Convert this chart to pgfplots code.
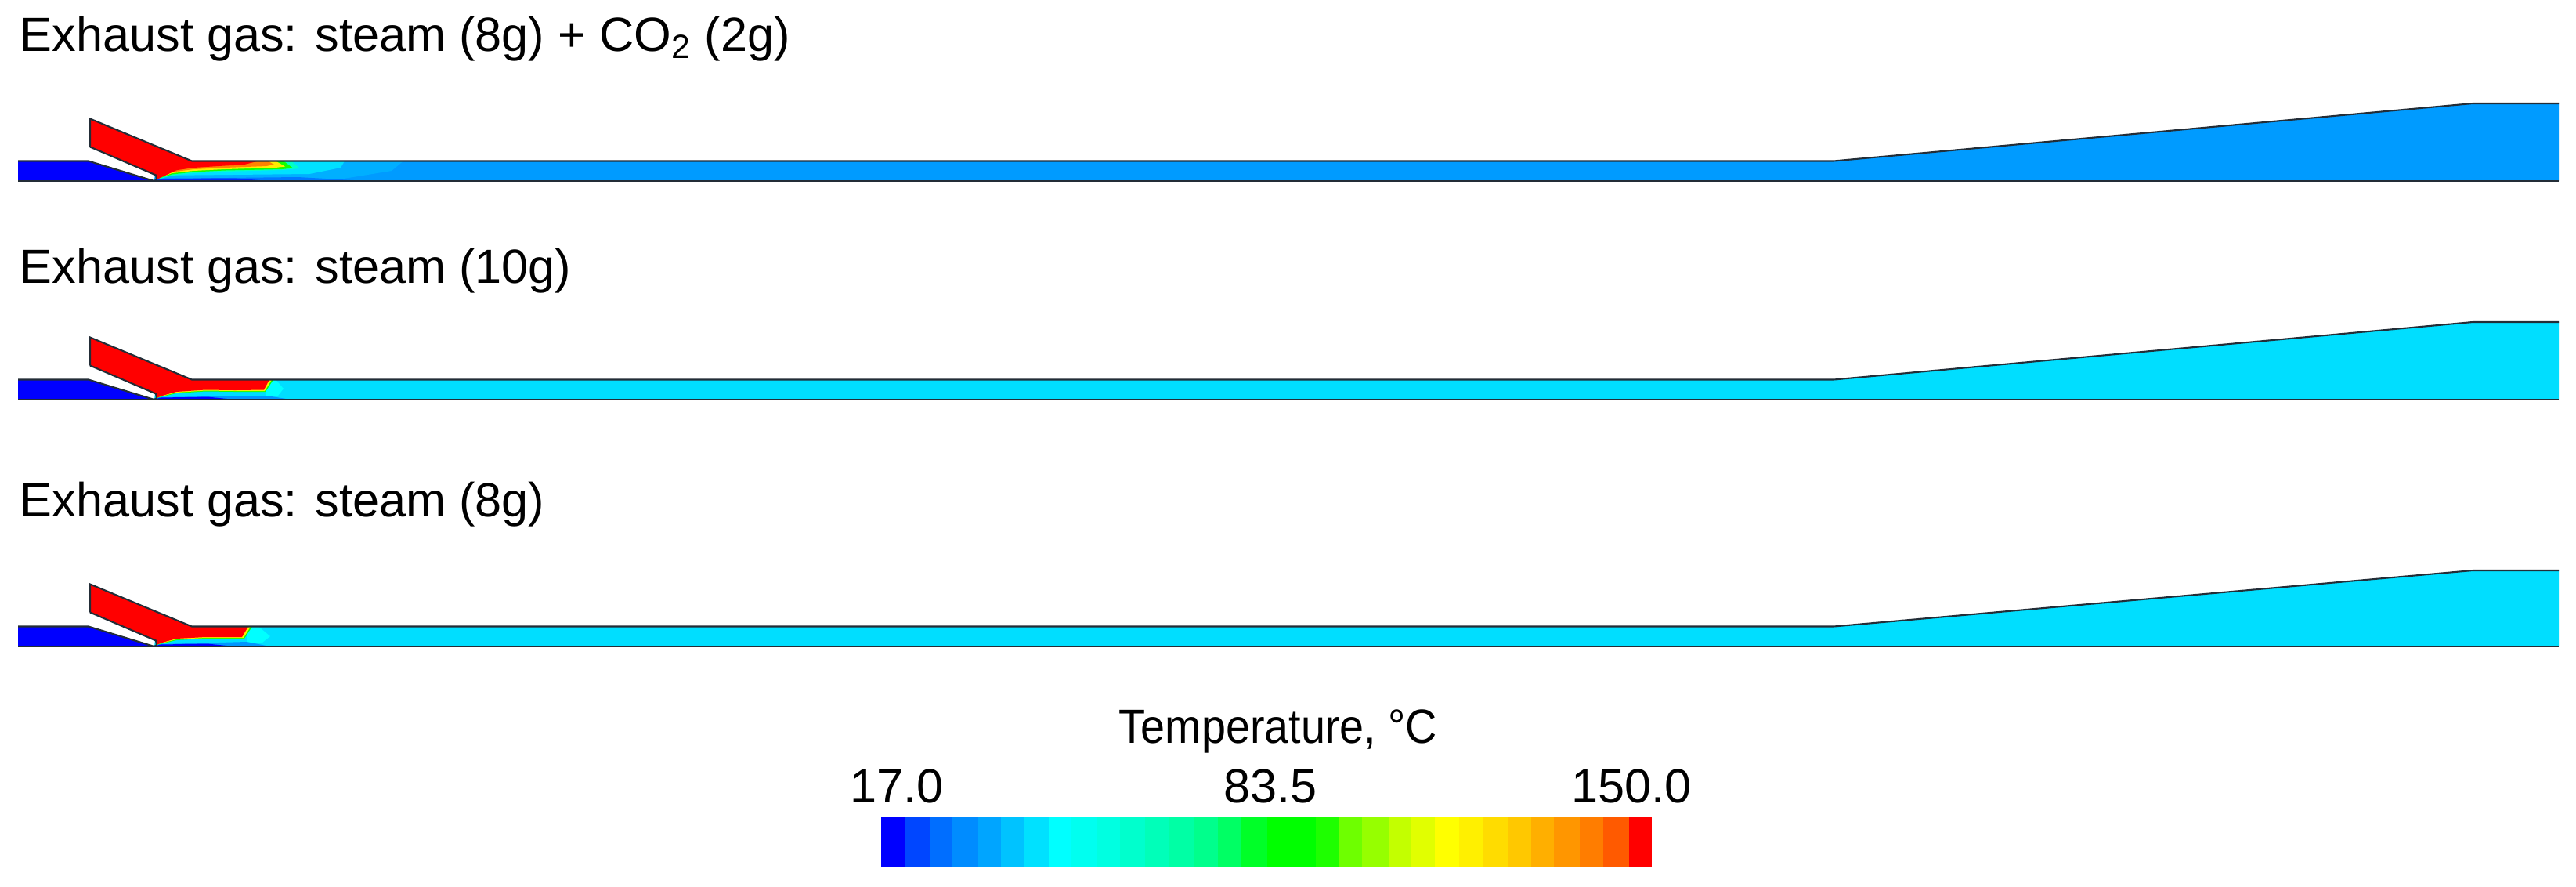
\documentclass[border=0pt]{standalone}
\usepackage{graphicx}
\usepackage{pgfplots}
\pgfplotsset{compat=1.18}
\usepackage{fontspec}
\setmainfont{Liberation Sans}
\newcommand\poly[2]{\addplot[draw=none,fill={rgb,255:red,#1},forget plot] coordinates {#2} --cycle;}
\newcommand\band[3]{\addplot[draw=none,fill={rgb,255:red,#3},forget plot] coordinates {(#1,1043)(#2,1043)(#2,1106)(#1,1106)} --cycle;}
\newcommand\edge[1]{\addplot[draw={rgb,255:red,35;green,45;blue,55},line width=0.5pt,forget plot] coordinates {#1};}
\newcommand\lab[1]{\scalebox{0.91}[1]{\fontsize{14.7}{17}\selectfont #1}}
\def\RED{255;green,0;blue,0}
\def\ORG{255;green,130;blue,0}
\def\YEL{255;green,235;blue,0}
\def\GRN{20;green,255;blue,0}
\def\BLU{0;green,0;blue,255}
\begin{document}
\begin{tikzpicture}
\path[use as bounding box] (0,0) rectangle (789.36pt,271.44pt);
\begin{axis}[at={(0,0)},anchor=south west,scale only axis,width=789.36pt,height=271.44pt,
  xmin=0,xmax=3289,ymin=0,ymax=1131,y dir=reverse,hide axis,clip=false]
% ---------- panel 1
\poly{0;green,155;blue,255}{(200,205.5)(2341,205.5)(3157,132)(3267,132)(3267,231)(197,231)}
\poly{0;green,175;blue,255}{(200,205.5)(515,205.5)(500,218)(420,231)(197,231)}
\poly{0;green,225;blue,255}{(200,205.5)(440,205.5)(435,214)(395,222)(197,224)}
\poly{0;green,120;blue,255}{(197,231)(200,228)(380,226)(470,231)}
\poly{0;green,40;blue,255}{(197,231)(205,228)(300,227.5)(345,231)}
\poly{0;green,255;blue,200}{(200,229)(220,224)(247,221)(287,219)(360,217)(383,215)(372,205.5)(200,205.5)}
\poly{\GRN}{(200,228.5)(220,222.5)(247,219.5)(287,217.5)(360,216)(374,214.5)(362,205.5)(200,205.5)}
\poly{\YEL}{(200,228)(220,221)(247,218)(287,216)(352,214)(364,212.5)(352,205.5)(200,205.5)}
\poly{\ORG}{(200,228)(220,219.5)(247,216)(287,214)(340,212)(350,210)(342,205.5)(200,205.5)}
\poly{\RED}{(200,228)(220,218)(247,214)(287,211.5)(310,210.5)(330,205.5)(200,205.5)}
\poly{\BLU}{(23,205.5)(113,205.5)(197,231)(23,231)}
\poly{\RED}{(115,151.5)(245,205.5)(245,208)(200,229)(199,223.5)(115,187.5)}
\edge{(23,205.5)(113,205.5)(197,231)}
\edge{(115,187.5)(115,151.5)(245,205.5)(2341,205.5)(3157,132)(3267,132)}
\edge{(115,187.5)(199,223.5)(200,229)(197,231)}
\edge{(23,231)(3267,231)}
% ---------- panel 2
\poly{0;green,222;blue,255}{(200,484.5)(2341,484.5)(3157,411)(3267,411)(3267,510)(197,510)}
\poly{0;green,255;blue,255}{(340,484.5)(352,484.5)(362,496)(355,505)(340,505)}
\poly{0;green,150;blue,255}{(197,510)(204,507)(340,505)(372,510)}
\poly{\BLU}{(197,510)(204,507.5)(265,506.5)(300,510)}
\poly{\GRN}{(200,508)(225,502)(262,499.5)(300,500)(339,500)(349,484.5)(200,484.5)}
\poly{\YEL}{(200,507.5)(225,501)(262,498.5)(300,499)(338,499)(347,484.5)(200,484.5)}
\poly{\RED}{(200,507)(225,500)(262,497.5)(300,498)(337,497.5)(344,484.5)(200,484.5)}
\poly{\BLU}{(23,484.5)(113,484.5)(197,510)(23,510)}
\poly{\RED}{(115,430.5)(245,484.5)(245,487)(200,508)(199,502.5)(115,466.5)}
\edge{(23,484.5)(113,484.5)(197,510)}
\edge{(115,466.5)(115,430.5)(245,484.5)(2341,484.5)(3157,411)(3267,411)}
\edge{(115,466.5)(199,502.5)(200,508)(197,510)}
\edge{(23,510)(3267,510)}
% ---------- panel 3
\poly{0;green,222;blue,255}{(200,799.5)(2341,799.5)(3157,728)(3267,728)(3267,825)(197,825)}
\poly{0;green,255;blue,255}{(315,799.5)(330,799.5)(345,812)(335,820)(315,820)}
\poly{0;green,150;blue,255}{(197,825)(204,822)(315,819)(345,825)}
\poly{\BLU}{(197,825)(204,822.5)(265,821.5)(300,825)}
\poly{\GRN}{(200,823)(225,817)(262,815)(312,815)(322,799.5)(200,799.5)}
\poly{\YEL}{(200,822.5)(225,816)(262,814)(311,814)(320,799.5)(200,799.5)}
\poly{\RED}{(200,822)(225,815)(262,813)(309,813)(317,799.5)(200,799.5)}
\poly{\BLU}{(23,799.5)(113,799.5)(197,825)(23,825)}
\poly{\RED}{(115,745.5)(245,799.5)(245,802)(200,823)(199,817.5)(115,781.5)}
\edge{(23,799.5)(113,799.5)(197,825)}
\edge{(115,781.5)(115,745.5)(245,799.5)(2341,799.5)(3157,728)(3267,728)}
\edge{(115,781.5)(199,817.5)(200,823)(197,825)}
\edge{(23,825)(3267,825)}
% ---------- colour bar
\band{1124.6}{1155}{0;green,0;blue,255}
\band{1155}{1187}{0;green,70;blue,255}
\band{1187}{1216}{0;green,110;blue,255}
\band{1216}{1249}{0;green,140;blue,255}
\band{1249}{1278}{0;green,165;blue,255}
\band{1278}{1308}{0;green,195;blue,255}
\band{1308}{1339}{0;green,225;blue,255}
\band{1339}{1368}{0;green,255;blue,255}
\band{1368}{1401}{0;green,255;blue,240}
\band{1401}{1430}{0;green,255;blue,225}
\band{1430}{1462}{0;green,255;blue,205}
\band{1462}{1493}{0;green,255;blue,185}
\band{1493}{1524}{0;green,255;blue,165}
\band{1524}{1555}{0;green,255;blue,140}
\band{1555}{1585}{0;green,255;blue,100}
\band{1585}{1618}{0;green,255;blue,40}
\band{1618}{1649}{0;green,255;blue,0}
\band{1649}{1680}{0;green,255;blue,0}
\band{1680}{1709}{30;green,255;blue,0}
\band{1709}{1739}{110;green,255;blue,0}
\band{1739}{1773}{150;green,255;blue,0}
\band{1773}{1801}{195;green,255;blue,0}
\band{1801}{1832}{225;green,255;blue,0}
\band{1832}{1863}{255;green,255;blue,0}
\band{1863}{1893}{255;green,240;blue,0}
\band{1893}{1926}{255;green,220;blue,0}
\band{1926}{1955}{255;green,200;blue,0}
\band{1955}{1984}{255;green,175;blue,0}
\band{1984}{2017}{255;green,150;blue,0}
\band{2017}{2047}{255;green,125;blue,0}
\band{2047}{2080}{255;green,90;blue,0}
\band{2080}{2109}{255;green,0;blue,0}
% ---------- text
\node[anchor=base west,inner sep=0pt,font=\fontsize{14.7}{17}\selectfont] at (axis cs:25,65) {Exhaust gas: steam (8g) + CO\textsubscript{2} (2g)};
\node[anchor=base west,inner sep=0pt,font=\fontsize{14.7}{17}\selectfont] at (axis cs:25,361) {Exhaust gas: steam (10g)};
\node[anchor=base west,inner sep=0pt,font=\fontsize{14.7}{17}\selectfont] at (axis cs:25,659) {Exhaust gas: steam (8g)};
\node[anchor=base,inner sep=0pt] at (axis cs:1632,948) {\lab{Temperature, °C}};
\node[anchor=base,inner sep=0pt,font=\fontsize{14.7}{17}\selectfont] at (axis cs:1145,1024) {17.0};
\node[anchor=base,inner sep=0pt,font=\fontsize{14.7}{17}\selectfont] at (axis cs:1622,1024) {83.5};
\node[anchor=base,inner sep=0pt,font=\fontsize{14.7}{17}\selectfont] at (axis cs:2083,1024) {150.0};
\end{axis}
\end{tikzpicture}
\end{document}
